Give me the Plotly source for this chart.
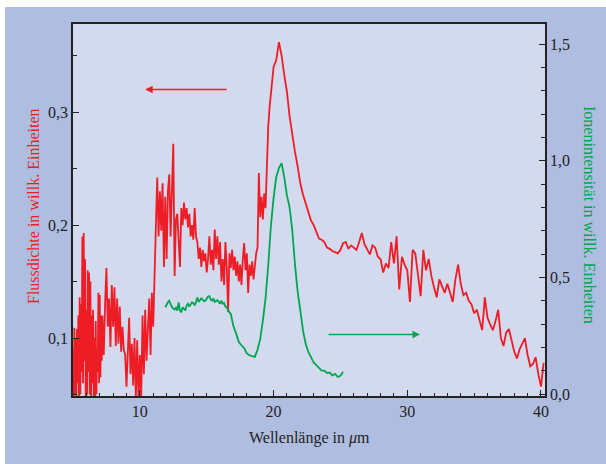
import numpy as np
import plotly.graph_objects as go

# ---------------- data ----------------
# Red: flux density (left axis), four sampled segments: (start, step, values)
red_a_start, red_a_step = 5.0, 0.05
red_a = [0.09, 0.045, 0.109, 0.05, 0.10, 0.045, 0.108, 0.06, 0.12, 0.045,
         0.136, 0.05, 0.13, 0.07, 0.19, 0.06, 0.193, 0.08, 0.17, 0.045,
         0.125, 0.05, 0.16, 0.07, 0.158, 0.05, 0.15, 0.045, 0.12, 0.06,
         0.125, 0.045, 0.10, 0.045, 0.115, 0.05, 0.09, 0.07, 0.14, 0.06,
         0.138, 0.065, 0.12, 0.08]
red_b_start, red_b_step = 7.2, 0.1
red_b = [0.12, 0.085, 0.13, 0.162, 0.11, 0.135, 0.092, 0.147, 0.11, 0.145,
         0.093, 0.135, 0.095, 0.128, 0.088, 0.11, 0.09, 0.085, 0.057, 0.095,
         0.118, 0.068, 0.095, 0.058, 0.10, 0.045, 0.098, 0.045, 0.085, 0.045,
         0.12, 0.068, 0.125, 0.08, 0.11, 0.135, 0.085, 0.14, 0.11, 0.165,
         0.20, 0.242]
red_c_start, red_c_step = 11.4, 0.1
red_c = [0.19, 0.23, 0.195, 0.237, 0.163, 0.225, 0.17, 0.23, 0.245, 0.19,
         0.243, 0.272, 0.155, 0.205, 0.21, 0.185, 0.163, 0.215, 0.20, 0.22,
         0.205, 0.215, 0.198, 0.21, 0.19, 0.20, 0.187, 0.215, 0.19, 0.185,
         0.17, 0.18, 0.163, 0.178, 0.168, 0.175, 0.158, 0.17, 0.19, 0.165,
         0.178, 0.16, 0.196, 0.17, 0.19, 0.165, 0.185, 0.15, 0.17, 0.147,
         0.185, 0.163, 0.123, 0.175, 0.162, 0.178, 0.16, 0.172, 0.155, 0.168,
         0.15, 0.165, 0.147, 0.17, 0.184, 0.16, 0.175, 0.14, 0.165, 0.155,
         0.168, 0.152, 0.165, 0.175, 0.18, 0.246, 0.207, 0.225, 0.205, 0.228,
         0.215, 0.262, 0.287, 0.304, 0.32, 0.328]
red_d_start, red_d_step = 20.0, 0.2
red_d = [0.34, 0.346, 0.362, 0.35, 0.333, 0.318, 0.296, 0.278, 0.265, 0.252,
         0.237, 0.227, 0.22, 0.212, 0.204, 0.20, 0.194, 0.188, 0.187, 0.185,
         0.18, 0.179, 0.177, 0.176, 0.175, 0.178, 0.184, 0.185, 0.179, 0.182,
         0.18, 0.178, 0.185, 0.193, 0.183, 0.178, 0.174, 0.182, 0.18, 0.172,
         0.17, 0.158, 0.166, 0.162, 0.185, 0.166, 0.19, 0.143, 0.172, 0.165,
         0.16, 0.132, 0.178, 0.175, 0.155, 0.137, 0.178, 0.16, 0.17, 0.155,
         0.145, 0.136, 0.152, 0.145, 0.14, 0.148, 0.14, 0.132, 0.152, 0.165,
         0.148, 0.138, 0.14, 0.133, 0.13, 0.122, 0.125, 0.115, 0.107, 0.136,
         0.118, 0.112, 0.107, 0.115, 0.125, 0.10, 0.093, 0.105, 0.108, 0.098,
         0.088, 0.082, 0.09, 0.095, 0.10, 0.085, 0.075, 0.077, 0.083, 0.068,
         0.057, 0.078]

# Green: ion intensity (right axis)
green_a_start, green_a_step = 11.9, 0.1
green_a = [0.372, 0.385, 0.393, 0.40, 0.385, 0.372, 0.366, 0.362, 0.37, 0.358,
           0.393, 0.358, 0.35, 0.372, 0.365, 0.358, 0.38, 0.387, 0.375, 0.385,
           0.393, 0.39, 0.38, 0.395, 0.414, 0.395, 0.401, 0.41, 0.405, 0.398,
           0.40, 0.41, 0.418, 0.42, 0.405, 0.40, 0.41, 0.395, 0.40, 0.402,
           0.395, 0.387, 0.40, 0.387, 0.39, 0.375, 0.372, 0.358, 0.35, 0.344,
           0.32, 0.29]
green_b_start, green_b_step = 17.2, 0.2
green_b = [0.26, 0.223, 0.209, 0.197, 0.174, 0.166, 0.162, 0.159, 0.19, 0.235,
           0.315, 0.41, 0.55, 0.72, 0.84, 0.93, 0.968, 0.99, 0.93, 0.85,
           0.80, 0.70, 0.557, 0.44, 0.358, 0.273, 0.215, 0.18, 0.158, 0.135,
           0.124, 0.112, 0.10, 0.10, 0.09, 0.092, 0.08, 0.086, 0.073, 0.078,
           0.095]

x_ticks = [10, 20, 30, 40]
left_ticks = [0.1, 0.2, 0.3]
right_ticks = [0.0, 0.5, 1.0, 1.5]


def seg(start, step, vals):
    return start + step * np.arange(len(vals))


red_x = np.concatenate([seg(red_a_start, red_a_step, red_a),
                        seg(red_b_start, red_b_step, red_b),
                        seg(red_c_start, red_c_step, red_c),
                        seg(red_d_start, red_d_step, red_d)])
red_y = red_a + red_b + red_c + red_d
green_x = np.concatenate([seg(green_a_start, green_a_step, green_a),
                          seg(green_b_start, green_b_step, green_b)])
green_y = green_a + green_b

RED = "#ee1c25"
GREEN = "#00a650"
INK = "#222222"
OUTER = "rgb(175,190,224)"
INNER = "rgb(211,218,237)"
FONT = "Liberation Serif"

fig = go.Figure()
fig.add_trace(go.Scatter(x=green_x, y=green_y, yaxis="y2", mode="lines",
                         line=dict(color=GREEN, width=1.8), showlegend=False))
fig.add_trace(go.Scatter(x=red_x, y=red_y, mode="lines",
                         line=dict(color=RED, width=1.8), showlegend=False))

W, H = 606, 464
L, R, T, B = 73, 61, 24, 68
pw, ph = W - L - R, H - T - B


def px2paper_x(px):
    return (px - L) / pw


def px2paper_y(py):
    return (H - B - py) / ph


fig.update_layout(
    width=W, height=H,
    margin=dict(l=L, r=R, t=T, b=B, pad=0, autoexpand=False),
    paper_bgcolor="white",
    plot_bgcolor="rgba(0,0,0,0)",
    separators=",.",
    font=dict(family=FONT, size=16, color=INK),
    shapes=[
        dict(type="rect", xref="paper", yref="paper", layer="below",
             x0=px2paper_x(5), x1=px2paper_x(606), y0=px2paper_y(464), y1=px2paper_y(7),
             fillcolor=OUTER, line=dict(width=0)),
        dict(type="rect", xref="paper", yref="paper", layer="below",
             x0=0, x1=1, y0=0, y1=1, fillcolor=INNER, line=dict(width=0)),
    ],
    xaxis=dict(range=[5, 40.3], tickvals=x_ticks, ticks="inside", ticklen=6,
               tickwidth=1.2, tickcolor=INK, showline=True, linecolor=INK,
               linewidth=1.5, mirror=True, showgrid=False, zeroline=False,
               automargin=False,
               minor=dict(dtick=1, tick0=0, ticks="inside", ticklen=3,
                          tickcolor=INK, tickwidth=1),
               tickfont=dict(size=16, color=INK, family=FONT)),
    yaxis=dict(range=[0.0487, 0.378], tickvals=left_ticks, tickformat=".1f",
               ticks="inside", ticklen=6, tickwidth=1.2, tickcolor=INK,
               showline=True, linecolor=INK, linewidth=1.5, showgrid=False,
               zeroline=False, automargin=False,
               minor=dict(dtick=0.05, tick0=0, ticks="inside", ticklen=4,
                          tickcolor=INK, tickwidth=1),
               tickfont=dict(size=16, color=INK, family=FONT)),
    yaxis2=dict(range=[-0.0085, 1.586], tickvals=right_ticks, tickformat=".1f",
                overlaying="y", side="right", ticks="inside", ticklen=6,
                tickwidth=1.2, tickcolor=INK, showline=True, linecolor=INK,
                linewidth=1.5, showgrid=False, zeroline=False, automargin=False,
                minor=dict(dtick=0.1, tick0=0, ticks="inside", ticklen=4,
                           tickcolor=INK, tickwidth=1),
                tickfont=dict(size=16, color=INK, family=FONT)),
    annotations=[
        dict(text="Flussdichte in willk. Einheiten", xref="paper", yref="paper",
             x=px2paper_x(33), y=px2paper_y(206), xanchor="center", yanchor="middle",
             textangle=-90, showarrow=False,
             font=dict(size=16, color=RED, family=FONT)),
        dict(text="Ionenintensität in willk. Einheiten", xref="paper", yref="paper",
             x=px2paper_x(590), y=px2paper_y(215), xanchor="center", yanchor="middle",
             textangle=90, showarrow=False,
             font=dict(size=16, color=GREEN, family=FONT)),
        dict(text="Wellenlänge in <i>μ</i>m", xref="paper", yref="paper",
             x=px2paper_x(309), y=px2paper_y(438), xanchor="center", yanchor="middle",
             showarrow=False,
             font=dict(size=16, color=INK, family=FONT)),
        dict(text="", xref="x", yref="y", axref="x", ayref="y",
             x=10.4, y=0.32, ax=16.6, ay=0.32, showarrow=True,
             arrowhead=2, arrowsize=1, arrowwidth=1.5, arrowcolor=RED),
        dict(text="", xref="x", yref="y2", axref="x", ayref="y2",
             x=30.95, y=0.255, ax=24.0, ay=0.255, showarrow=True,
             arrowhead=2, arrowsize=1, arrowwidth=1.5, arrowcolor=GREEN),
    ],
)

fig.write_html("out.html",
               config={"displayModeBar": False},
               post_script="document.body.style.margin='0px';"
                           "document.body.style.overflow='hidden';")
